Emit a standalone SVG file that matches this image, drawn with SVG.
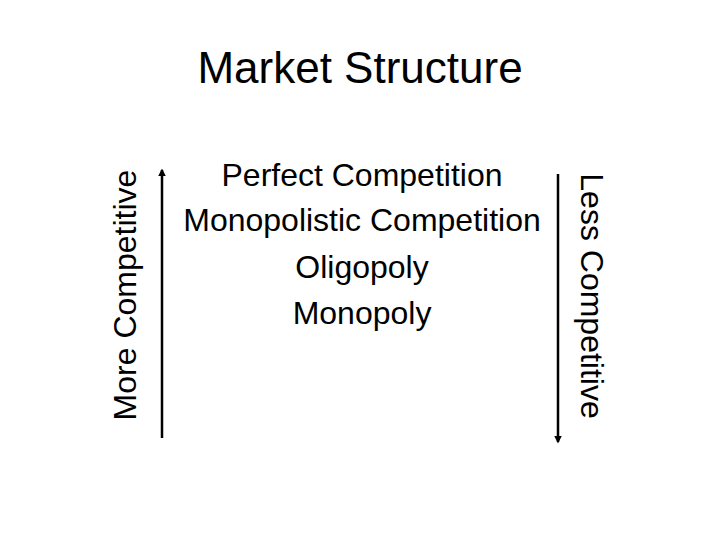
<svg xmlns="http://www.w3.org/2000/svg" width="720" height="540" viewBox="0 0 720 540">
<style>
text{font-family:"Liberation Sans",Arial,sans-serif;fill:#000;text-anchor:middle}
.item{font-size:32px}
.ax{stroke:#000;stroke-width:2.5}
</style>
<defs>
<marker id="ah" viewBox="0 0 10 10" refX="8" refY="5" markerWidth="3" markerHeight="3" orient="auto"><path d="M0,0L10,5L0,10z" fill="#000"/></marker>
</defs>
<rect width="720" height="540" fill="#fff"/>
<g id="title"><text x="360" y="83" style="font-size:44px">Market Structure</text></g>
<g id="list">
<text class="item" x="362" y="186">Perfect Competition</text>
<text class="item" x="362" y="231">Monopolistic Competition</text>
<text class="item" x="362" y="278">Oligopoly</text>
<text class="item" x="362" y="324">Monopoly</text>
</g>
<g id="more"><text class="item" transform="translate(136,295) rotate(-90)">More Competitive</text></g>
<g id="less"><text class="item" transform="translate(581,296) rotate(90)">Less Competitive</text></g>
<g id="connectors">
<line class="ax" x1="162" y1="438" x2="162" y2="170" marker-end="url(#ah)"/>
<line class="ax" x1="558" y1="174" x2="558" y2="442" marker-end="url(#ah)"/>
</g>
</svg>
